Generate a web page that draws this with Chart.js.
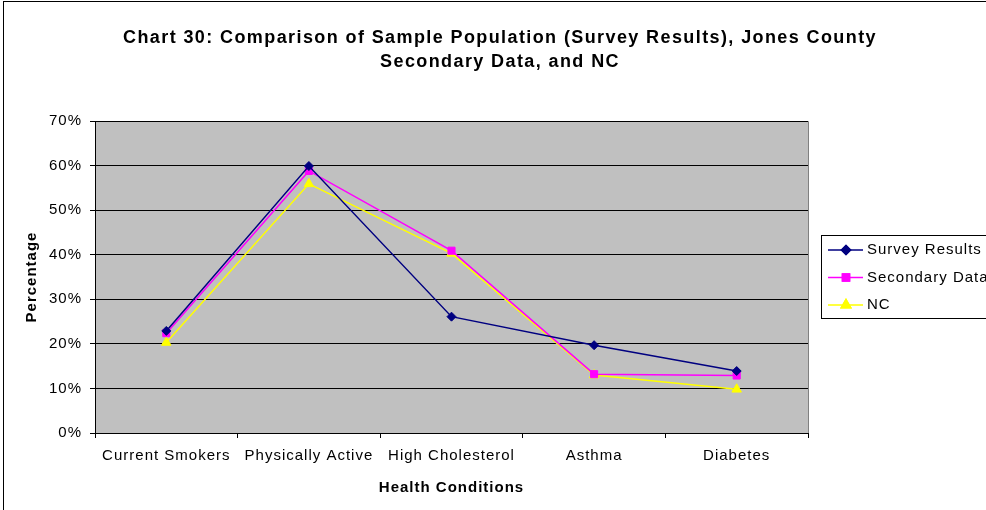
<!DOCTYPE html>
<html lang="en">
<head>
  <meta charset="UTF-8">
  <title>Chart 30</title>
  <script src="https://cdn.jsdelivr.net/npm/chart.js"></script>
  <style>
    html, body { margin: 0; padding: 0; background: #fff; }
    #wrap { width: 986px; height: 510px; }
  </style>
</head>
<body>
  <div id="wrap"><canvas id="chart" width="986" height="510"></canvas></div>

  <script>
    const titleLines = ['Chart 30: Comparison of Sample Population (Survey Results), Jones County', 'Secondary Data, and NC'];
    const categories = ['Current Smokers', 'Physically Active', 'High Cholesterol', 'Asthma', 'Diabetes'];
    const surveyResults = [22.9, 59.9, 26.1, 19.7, 13.9];
    const secondaryData = [22.4, 58.8, 40.9, 13.2, 12.9];
    const ncData = [20.3, 55.9, 40.3, 13.0, 9.8];
    const yTicks = [0, 10, 20, 30, 40, 50, 60, 70];

    const FONT = "'Liberation Sans', Arial, sans-serif";

    // grey plot area, outer frame, title and legend box
    const decor = {
      id: 'decor',
      beforeDraw(chart) {
        const { ctx, chartArea: a } = chart;
        ctx.letterSpacing = '1px';   // the original text is drawn rather wide
        ctx.save();
        ctx.fillStyle = '#c0c0c0';
        ctx.fillRect(a.left, a.top, a.right - a.left, a.bottom - a.top);
        ctx.strokeStyle = '#808080';
        ctx.lineWidth = 1;
        ctx.beginPath();
        ctx.moveTo(a.left, a.top + 0.5);
        ctx.lineTo(a.right + 0.5, a.top + 0.5);
        ctx.lineTo(a.right + 0.5, a.bottom);
        ctx.stroke();
        ctx.strokeStyle = '#000';
        ctx.strokeRect(3.5, 1.5, 1000, 520);
        ctx.fillStyle = '#000';
        ctx.font = 'bold 18px ' + FONT;
        ctx.letterSpacing = '1.4px';
        ctx.textAlign = 'center';
        ctx.textBaseline = 'middle';
        titleLines.forEach((t, i) => ctx.fillText(t, 500, 38 + i * 24));
        ctx.restore();
      },
      afterDraw(chart) {
        const { ctx } = chart;
        ctx.save();
        ctx.fillStyle = '#fff';
        ctx.fillRect(821, 235, 200, 83);
        ctx.strokeStyle = '#000';
        ctx.lineWidth = 1;
        ctx.strokeRect(821.5, 235.5, 200, 83);
        ctx.font = '15px ' + FONT;
        ctx.textBaseline = 'middle';
        ctx.textAlign = 'left';
        chart.data.datasets.forEach((ds, i) => {
          const y = 250 + i * 27.5;
          ctx.strokeStyle = ds.borderColor;
          ctx.lineWidth = 1.5;
          ctx.beginPath();
          ctx.moveTo(828, y);
          ctx.lineTo(863, y);
          ctx.stroke();
          Chart.helpers.drawPoint(ctx, {
            pointStyle: ds.pointStyle, radius: ds.pointRadius, borderWidth: 1
          }, 846, y);
          ctx.fillStyle = ds.backgroundColor;
          ctx.strokeStyle = ds.borderColor;
          ctx.fill();
          ctx.stroke();
          ctx.fillStyle = '#000';
          ctx.fillText(ds.label, 867, y);
        });
        ctx.restore();
      }
    };

    new Chart(document.getElementById('chart'), {
      type: 'line',
      data: {
        labels: categories,
        datasets: [
          { label: 'Survey Results', data: surveyResults, borderColor: '#000080', backgroundColor: '#000080', pointStyle: 'rectRot', pointRadius: 4.5 },
          { label: 'Secondary Data', data: secondaryData, borderColor: '#ff00ff', backgroundColor: '#ff00ff', pointStyle: 'rect', pointRadius: 5 },
          { label: 'NC', data: ncData, borderColor: '#ffff00', backgroundColor: '#ffff00', pointStyle: 'triangle', pointRadius: 5.5 }
        ].map(d => Object.assign(d, { borderWidth: 1.5, tension: 0, fill: false, pointBorderWidth: 1, pointHoverRadius: d.pointRadius }))
      },
      options: {
        responsive: false,
        animation: false,
        layout: { padding: { top: 121, right: 178, bottom: 0, left: 0 } },
        plugins: {
          legend: { display: false },
          title: { display: false },
          tooltip: { enabled: false }
        },
        scales: {
          x: {
            offset: true,
            grid: { offset: true, drawOnChartArea: false, drawTicks: true, tickLength: 5, color: '#000' },
            border: { color: '#000', width: 1 },
            ticks: { color: '#000', font: { family: FONT, size: 15 }, padding: 9, maxRotation: 0, autoSkip: false },
            title: { display: true, text: 'Health Conditions', color: '#000', font: { family: FONT, size: 15, weight: 'bold' }, padding: { top: 0, bottom: 13 } },
            afterFit(s) { s.height = 77; }
          },
          y: {
            min: 0,
            max: 70,
            afterBuildTicks(s) { s.ticks = yTicks.map(v => ({ value: v })); },
            grid: { color: '#000', tickLength: 5, drawTicks: true },
            border: { color: '#000', width: 1 },
            ticks: { color: '#000', font: { family: FONT, size: 15 }, padding: 8, callback: v => v + '%' },
            title: { display: true, text: 'Percentage', color: '#000', font: { family: FONT, size: 15, weight: 'bold' }, padding: { top: 23, bottom: 0 } },
            afterFit(s) { s.width = 95; }
          }
        }
      },
      plugins: [decor]
    });
  </script>
</body>
</html>
